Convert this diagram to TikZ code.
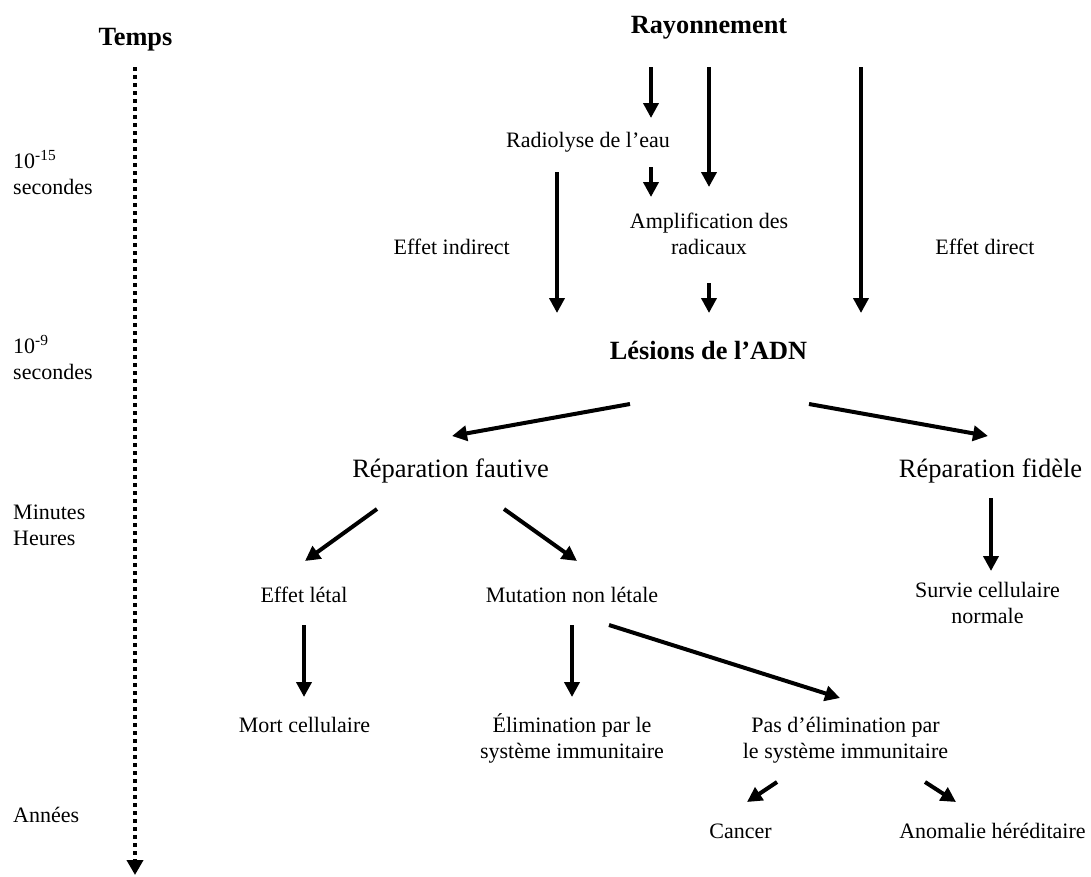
\documentclass[tikz,border=0pt]{standalone}
\usepackage{fontspec}
\setmainfont{Liberation Serif}
\usetikzlibrary{arrows.meta}
\begin{document}
\begin{tikzpicture}[x=1pt,y=-1pt,
  lbl/.style={anchor=base, inner sep=0pt, font=\fontsize{22}{26}\selectfont},
  lleft/.style={anchor=base west, inner sep=0pt, font=\fontsize{22}{26}\selectfont},
  big/.style={anchor=base, inner sep=0pt, font=\fontsize{26.5}{30}\selectfont},
  title/.style={anchor=base, inner sep=0pt, font=\fontsize{26.3}{30}\selectfont\bfseries},
  arr/.style={line width=4pt, -{Triangle[width=15pt,length=15pt]}},
  timeaxis/.style={line width=4pt, dash pattern=on 4pt off 4pt, -{Triangle[width=16pt,length=15pt]}}
]
\useasboundingbox (0,0) rectangle (1091,876);

% time column
\node[title] (temps) at (135.5,45) {Temps};
\node[lleft] (t15) at (13,168) {\begin{tabular}[t]{@{}l@{}}10\textsuperscript{-15}\\secondes\end{tabular}};
\node[lleft] (t9) at (13,353) {\begin{tabular}[t]{@{}l@{}}10\textsuperscript{-9}\\secondes\end{tabular}};
\node[lleft] (tmin) at (13,519) {\begin{tabular}[t]{@{}l@{}}Minutes\\Heures\end{tabular}};
\node[lleft] (tans) at (13,822) {Années};
\coordinate (ta) at (135,67);
\coordinate (tb) at (135,875);
\draw[timeaxis] (ta) -- (tb);

% nodes
\node[title] (ray) at (709,33) {Rayonnement};
\node[lbl] (radio) at (588,147) {Radiolyse de l’eau};
\node[lbl] (ampl) at (709,228) {\begin{tabular}[t]{@{}c@{}}Amplification des\\radicaux\end{tabular}};
\node[lbl] (eind) at (451.7,254) {Effet indirect};
\node[lbl] (edir) at (985,254) {Effet direct};
\node[title] (les) at (708.5,359) {Lésions de l’ADN};
\node[big] (faut) at (450.5,477) {Réparation fautive};
\node[big] (fid) at (990.5,477) {Réparation fidèle};
\node[lbl] (letal) at (304,602) {Effet létal};
\node[lbl] (mut) at (572,602) {Mutation non létale};
\node[lbl] (surv) at (987.5,597) {\begin{tabular}[t]{@{}c@{}}Survie cellulaire\\normale\end{tabular}};
\node[lbl] (mort) at (304.5,732) {Mort cellulaire};
\node[lbl] (elim) at (572,732) {\begin{tabular}[t]{@{}c@{}}Élimination par le\\système immunitaire\end{tabular}};
\node[lbl] (pas) at (845.5,732) {\begin{tabular}[t]{@{}c@{}}Pas d’élimination par\\le système immunitaire\end{tabular}};
\node[lbl] (cancer) at (740.5,838) {Cancer};
\node[lbl] (anom) at (992.5,838) {Anomalie héréditaire};

% connector end points
\coordinate (ray-radio-a) at (651,67);   \coordinate (ray-radio-b) at (651,118);
\coordinate (ray-ampl-a) at (709,67);    \coordinate (ray-ampl-b) at (709,187);
\coordinate (ray-les-a) at (861,67);     \coordinate (ray-les-b) at (861,313);
\coordinate (radio-ampl-a) at (651,167); \coordinate (radio-ampl-b) at (651,197);
\coordinate (radio-les-a) at (557,172);  \coordinate (radio-les-b) at (557,313);
\coordinate (ampl-les-a) at (709,283);   \coordinate (ampl-les-b) at (709,313);
\coordinate (les-faut-a) at (630,404);   \coordinate (les-faut-b) at (452,436);
\coordinate (les-fid-a) at (809,404);    \coordinate (les-fid-b) at (988,436);
\coordinate (faut-letal-a) at (377,509); \coordinate (faut-letal-b) at (305,561);
\coordinate (faut-mut-a) at (504,509);   \coordinate (faut-mut-b) at (577,561);
\coordinate (fid-surv-a) at (991,498);   \coordinate (fid-surv-b) at (991,571);
\coordinate (letal-mort-a) at (304,625); \coordinate (letal-mort-b) at (304,697);
\coordinate (mut-elim-a) at (572,625);   \coordinate (mut-elim-b) at (572,697);
\coordinate (mut-pas-a) at (609,625);    \coordinate (mut-pas-b) at (840,698);
\coordinate (pas-can-a) at (777,782);    \coordinate (pas-can-b) at (747,802);
\coordinate (pas-anom-a) at (925,782);   \coordinate (pas-anom-b) at (956,802);

% connectors
\draw[arr] (ray-radio-a) -- (ray-radio-b);
\draw[arr] (ray-ampl-a) -- (ray-ampl-b);
\draw[arr] (ray-les-a) -- (ray-les-b);
\draw[arr] (radio-ampl-a) -- (radio-ampl-b);
\draw[arr] (radio-les-a) -- (radio-les-b);
\draw[arr] (ampl-les-a) -- (ampl-les-b);
\draw[arr] (les-faut-a) -- (les-faut-b);
\draw[arr] (les-fid-a) -- (les-fid-b);
\draw[arr] (faut-letal-a) -- (faut-letal-b);
\draw[arr] (faut-mut-a) -- (faut-mut-b);
\draw[arr] (fid-surv-a) -- (fid-surv-b);
\draw[arr] (letal-mort-a) -- (letal-mort-b);
\draw[arr] (mut-elim-a) -- (mut-elim-b);
\draw[arr] (mut-pas-a) -- (mut-pas-b);
\draw[arr] (pas-can-a) -- (pas-can-b);
\draw[arr] (pas-anom-a) -- (pas-anom-b);
\end{tikzpicture}
\end{document}
